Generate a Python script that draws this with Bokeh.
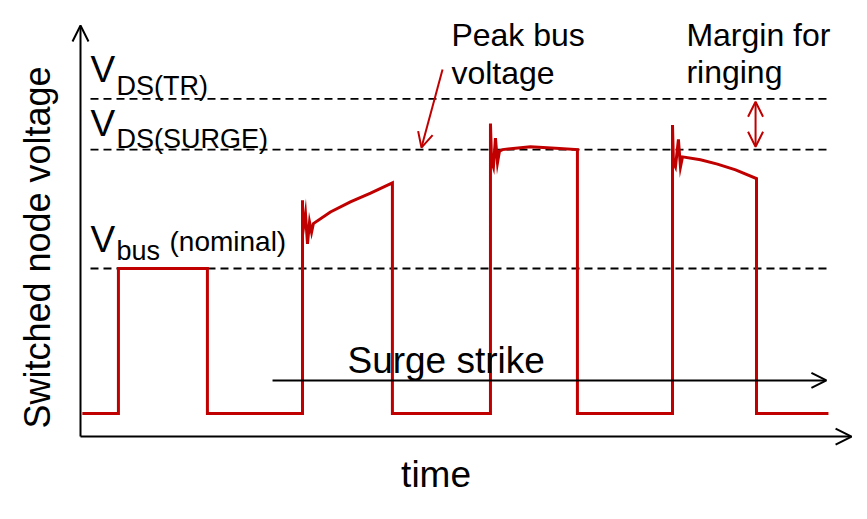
from bokeh.plotting import figure
from bokeh.models import Range1d, Label, Arrow, OpenHead
from bokeh.embed import file_html
from bokeh.resources import INLINE

# ---- data (time in arbitrary units, voltage normalised: V_bus = 100) ----
wave_t = [0.1, 2.05, 2.05, 6.86, 6.86, 12.0, 12.0, 12.0, 12.16, 12.27, 12.38, 12.49, 12.59,
          13.51, 14.59, 15.68, 16.86, 16.86, 22.16, 22.16, 22.22, 22.32, 22.43, 22.54, 22.65,
          22.81, 24.32, 25.68, 26.86, 26.86, 32.0, 32.0, 32.05, 32.16, 32.32, 32.43, 32.54,
          33.51, 34.43, 35.41, 36.54, 36.54, 40.43]
wave_v = [0, 0, 100, 100, 0, 0, 147, 123, 138, 117, 132, 125, 131,
          139, 146, 152, 159, 0, 0, 200, 174, 170, 190, 173, 181,
          182, 184, 183, 182, 0, 0, 199, 173, 170, 189, 170, 177,
          175, 172, 168, 162, 0, 0]

V_BUS = 100
V_SURGE = 182
V_TR = 217
level_t = [0.54, 40.54]

axis_origin = [0.0, -15.9]
x_axis_end = 41.68
y_axis_end = 267.6

surge_t = [10.38, 40.32]
surge_v = 22.8
peak_arrow = [19.57, 237.2, 18.43, 183.4]
margin_t = 36.49

RED = "#C00000"
FONT = "Liberation Sans"

p = figure(width=867, height=519, x_range=Range1d(-4.3243, 42.5405),
           y_range=Range1d(-73.10, 284.83), output_backend="svg",
           toolbar_location=None, x_axis_type=None, y_axis_type=None,
           min_border=0, outline_line_color=None,
           background_fill_color="white", border_fill_color="white")

# dashed reference levels
for lv in (V_TR, V_SURGE, V_BUS):
    p.line(level_t, [lv, lv], line_color="black", line_width=1.8, line_dash="8 5")

# waveform
p.line(wave_t, wave_v, line_color=RED, line_width=3, line_join="miter")

# axes with arrow heads
p.add_layout(Arrow(end=OpenHead(size=16, line_width=2, line_color="black"),
                   x_start=axis_origin[0], y_start=axis_origin[1],
                   x_end=axis_origin[0], y_end=y_axis_end,
                   line_width=2, line_color="black"))
p.add_layout(Arrow(end=OpenHead(size=16, line_width=2, line_color="black"),
                   x_start=axis_origin[0], y_start=axis_origin[1],
                   x_end=x_axis_end, y_end=axis_origin[1],
                   line_width=2, line_color="black"))

# surge strike arrow
p.add_layout(Arrow(end=OpenHead(size=15, line_width=2, line_color="black"),
                   x_start=surge_t[0], y_start=surge_v, x_end=surge_t[1], y_end=surge_v,
                   line_width=2, line_color="black"))

# peak bus voltage arrow
p.add_layout(Arrow(end=OpenHead(size=15, line_width=2, line_color=RED),
                   x_start=peak_arrow[0], y_start=peak_arrow[1],
                   x_end=peak_arrow[2], y_end=peak_arrow[3],
                   line_width=2, line_color=RED))

# margin for ringing double arrow
p.add_layout(Arrow(start=OpenHead(size=15, line_width=2, line_color=RED),
                   end=OpenHead(size=15, line_width=2, line_color=RED),
                   x_start=margin_t, y_start=V_SURGE + 2, x_end=margin_t, y_end=V_TR - 2,
                   line_width=2, line_color=RED))


def lab(text, x, y, fs, xo=0, yo=0, align="left", baseline="alphabetic", angle=0):
    if baseline == "alphabetic":
        baseline = "middle"
        yo = yo + 0.35 * fs
    p.add_layout(Label(x=x, y=y, x_offset=xo, y_offset=yo, text=text,
                       text_font=FONT, text_font_size=f"{fs}px", text_color="black",
                       text_align=align, text_baseline=baseline, angle=angle,
                       angle_units="deg"))


LT = level_t[0]
lab("V", LT, V_TR, 37, 0, 16)
lab("DS(TR)", LT, V_TR, 27, 26, 3)
lab("V", LT, V_SURGE, 37, 0, 13)
lab("DS(SURGE)", LT, V_SURGE, 27, 26, 1)
lab("V", LT, V_BUS, 37, 0, 16)
lab("bus", LT, V_BUS, 27, 26, 8)
lab("(nominal)", LT, V_BUS, 28, 79, 17)

lab("Peak bus", 20.05, 253.1, 32)
lab("voltage", 20.05, 226.9, 32)
lab("Margin for", 32.75, 253.1, 32)
lab("ringing", 32.75, 227.6, 32)

lab("Surge strike", 14.43, 27.6, 37)
lab("time", 19.22, -51.0, 37, align="center")
lab("Switched node voltage", -2.32, 114.5, 36, align="center", baseline="middle", angle=90)

open("out.html", "w").write(file_html(p, INLINE))
